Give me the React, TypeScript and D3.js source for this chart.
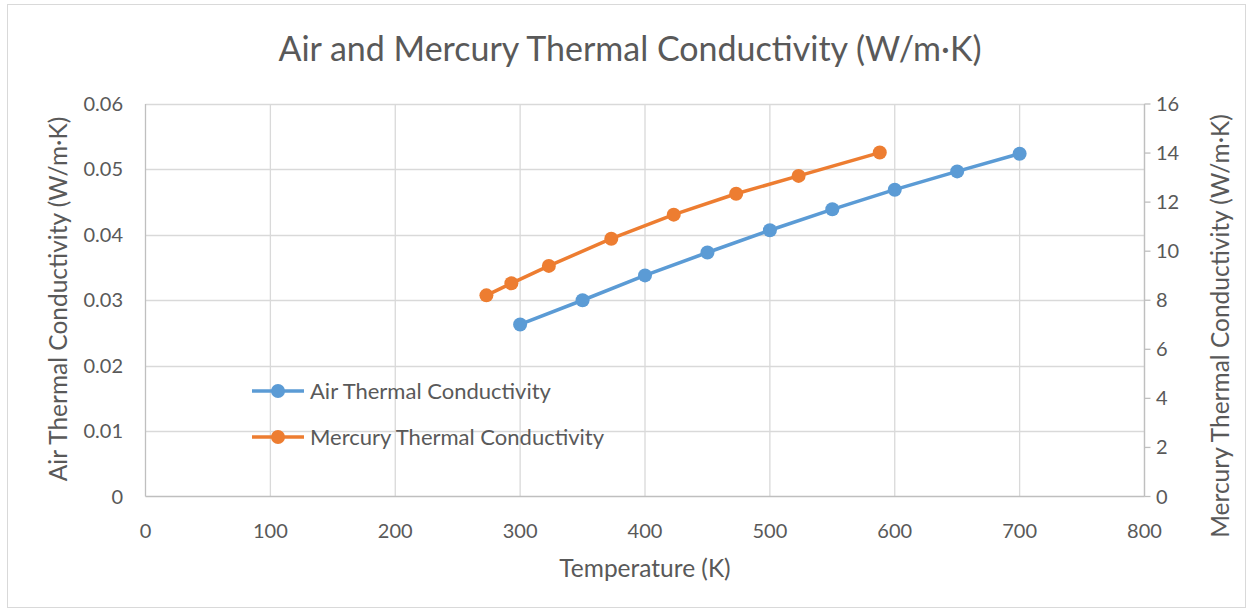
import React from "react";
import * as d3 from "d3";

const airTemps = [300, 350, 400, 450, 500, 550, 600, 650, 700];
const airK = [0.0263, 0.03, 0.0338, 0.0373, 0.0407, 0.0439, 0.0469, 0.0497, 0.0524];
const hgTemps = [273, 293, 323, 373, 423, 473, 523, 588];
const hgK = [8.2, 8.69, 9.4, 10.51, 11.49, 12.34, 13.07, 14.02];
const xTicks = [0, 100, 200, 300, 400, 500, 600, 700, 800];
const yLeftTicks = [0, 0.01, 0.02, 0.03, 0.04, 0.05, 0.06];
const yRightTicks = [0, 2, 4, 6, 8, 10, 12, 14, 16];

const W = 1250, H = 613;
const L = 145.5, R = 1144.5, T = 104, B = 496.5;
const FONT = "Lato, 'Open Sans', sans-serif";
const TXT = "#595959";
const AIR = "#5b9bd5";
const HG = "#ed7d31";

export default function App() {
  const x = d3.scaleLinear().domain([0, 800]).range([L, R]);
  const yL = d3.scaleLinear().domain([0, 0.06]).range([B, T]);
  const yR = d3.scaleLinear().domain([0, 16]).range([B, T]);
  const airPts = airTemps.map((t, i) => [x(t), yL(airK[i])] as [number, number]);
  const hgPts = hgTemps.map((t, i) => [x(t), yR(hgK[i])] as [number, number]);
  const line = d3.line();
  return (
    <svg width={W} height={H} style={{ position: "absolute", left: 0, top: 0, background: "#fff" }} fontFamily={FONT}>
      <rect x={7.5} y={4.5} width={1238} height={603} fill="#fff" stroke="#d9d9d9" />
      {yLeftTicks.slice(1).map((v) => (
        <line key={"h" + v} x1={L} x2={R} y1={Math.round(yL(v)) + 0.5} y2={Math.round(yL(v)) + 0.5} stroke="#d9d9d9" strokeWidth={1.3} />
      ))}
      {xTicks.slice(1).map((v) => (
        <line key={"v" + v} x1={x(v)} x2={x(v)} y1={T} y2={B} stroke="#d9d9d9" strokeWidth={1.3} />
      ))}
      <line x1={L} x2={L} y1={T} y2={B} stroke="#bfbfbf" strokeWidth={1.3} />
      <line x1={L} x2={R} y1={B} y2={B} stroke="#bfbfbf" strokeWidth={1.3} />
      <line x1={R} x2={R} y1={T} y2={B} stroke="#bfbfbf" strokeWidth={1.3} />
      {yRightTicks.map((v) => (
        <line key={"rt" + v} x1={R} x2={R + 6} y1={yR(v)} y2={yR(v)} stroke="#bfbfbf" strokeWidth={1.3} />
      ))}
      {yLeftTicks.map((v) => (
        <text key={"yl" + v} x={123} y={yL(v)} dy="0.35em" textAnchor="end" fontSize={20} fill={TXT}>
          {v === 0 ? "0" : v.toFixed(2)}
        </text>
      ))}
      {yRightTicks.map((v) => (
        <text key={"yr" + v} x={1156} y={yR(v)} dy="0.35em" textAnchor="start" fontSize={20} fill={TXT}>
          {v}
        </text>
      ))}
      {xTicks.map((v) => (
        <text key={"xt" + v} x={x(v)} y={531} dy="0.35em" textAnchor="middle" fontSize={20} fill={TXT}>
          {v}
        </text>
      ))}
      <text x={645} y={568} dy="0.35em" textAnchor="middle" fontSize={24.5} fill={TXT}>Temperature (K)</text>
      <text transform={`translate(58,299) rotate(-90)`} dy="0.35em" textAnchor="middle" fontSize={24.5} fill={TXT}>
        Air Thermal Conductivity (W/m·K)
      </text>
      <text transform={`translate(1220,326) rotate(-90)`} dy="0.35em" textAnchor="middle" fontSize={24.5} fill={TXT}>
        Mercury Thermal Conductivity (W/m·K)
      </text>
      <text x={630} y={49} dy="0.35em" textAnchor="middle" fontSize={34} fill={TXT}>
        Air and Mercury Thermal Conductivity (W/m·K)
      </text>
      <path d={line(airPts) || ""} fill="none" stroke={AIR} strokeWidth={3.5} strokeLinejoin="round" />
      {airPts.map((p, i) => (
        <circle key={"a" + i} cx={p[0]} cy={p[1]} r={7} fill={AIR} />
      ))}
      <path d={line(hgPts) || ""} fill="none" stroke={HG} strokeWidth={3.5} strokeLinejoin="round" />
      {hgPts.map((p, i) => (
        <circle key={"m" + i} cx={p[0]} cy={p[1]} r={7} fill={HG} />
      ))}
      {[
        { label: "Air Thermal Conductivity", color: AIR, y: 391 },
        { label: "Mercury Thermal Conductivity", color: HG, y: 437 },
      ].map((d) => (
        <g key={d.label}>
          <line x1={252} x2={304} y1={d.y} y2={d.y} stroke={d.color} strokeWidth={3.5} />
          <circle cx={278} cy={d.y} r={7} fill={d.color} />
          <text x={310} y={d.y} dy="0.35em" fontSize={22} fill={TXT}>{d.label}</text>
        </g>
      ))}
    </svg>
  );
}
